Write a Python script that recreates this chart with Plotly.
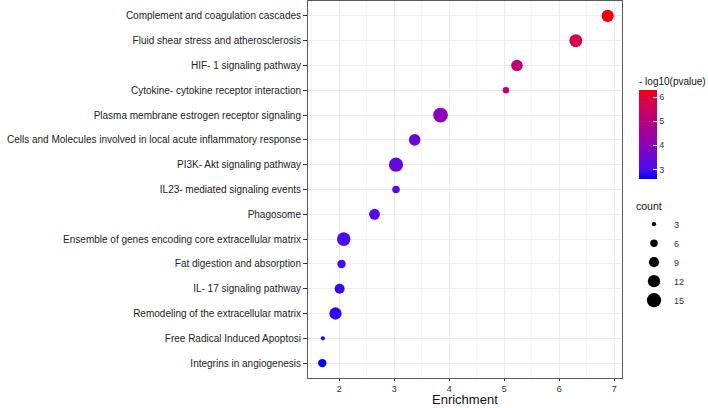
import plotly.graph_objects as go

pathways = [
    "Complement and coagulation cascades",
    "Fluid shear stress and atherosclerosis",
    "HIF- 1 signaling pathway",
    "Cytokine- cytokine receptor interaction",
    "Plasma membrane estrogen receptor signaling",
    "Cells and Molecules involved in local acute inflammatory response",
    "PI3K- Akt signaling pathway",
    "IL23- mediated signaling events",
    "Phagosome",
    "Ensemble of genes encoding core extracellular matrix",
    "Fat digestion and absorption",
    "IL- 17 signaling pathway",
    "Remodeling of the extracellular matrix",
    "Free Radical Induced Apoptosi",
    "Integrins in angiogenesis",
]
enrichment = [6.88, 6.30, 5.23, 5.03, 3.84, 3.37, 3.03, 3.03, 2.64, 2.08, 2.04, 2.005, 1.93, 1.70, 1.69]
neglog10p = [6.30, 5.80, 5.20, 5.10, 4.05, 3.50, 3.35, 3.25, 3.10, 3.00, 2.95, 2.90, 2.85, 2.70, 2.60]
counts = [12, 13, 11, 5, 16, 11, 15, 6, 10, 14, 7, 9, 12, 3, 7]

count_breaks = [3, 6, 9, 12, 15]
color_ticks = [3, 4, 5, 6]
x_ticks = [2, 3, 4, 5, 6, 7]
x_title = "Enrichment"

FONT = "Liberation Sans"


def diam(c):
    # area-style size scale (diameter linear in sqrt(count))
    return -4.0 + 4.7 * c ** 0.5


colorscale = [
    [0.00, "#0000FF"],
    [0.11, "#4F0AF0"],
    [0.38, "#8A00B9"],
    [0.65, "#B8007E"],
    [0.92, "#E0003A"],
    [1.00, "#F0000F"],
]

cmin, cmax = min(neglog10p), max(neglog10p)

W, H = 708, 408
ml, mr, mt, mb = 308, 86, 1, 30
pw, ph = W - ml - mr, H - mt - mb


def px_to_paper_x(px):
    return (px - ml) / pw


def px_to_paper_y(py):
    return (H - mb - py) / ph


fig = go.Figure()
fig.add_trace(go.Scatter(
    x=enrichment, y=pathways, mode="markers", showlegend=False,
    hoverinfo="skip",
    marker=dict(
        size=[diam(c) for c in counts], sizemode="diameter",
        color=neglog10p, colorscale=colorscale, cmin=cmin, cmax=cmax,
        line=dict(width=0), opacity=1,
        colorbar=dict(
            title=dict(text="- log10(pvalue)", side="top",
                       font=dict(family=FONT, size=10, color="#111")),
            tickvals=color_ticks, ticks="inside", tickcolor="white", ticklen=4,
            tickfont=dict(family=FONT, size=9, color="#333"),
            thickness=18, thicknessmode="pixels",
            len=105, lenmode="pixels",
            x=px_to_paper_x(639), xanchor="left", xpad=0,
            y=px_to_paper_y(74), yanchor="top", ypad=0,
            outlinewidth=0,
        ),
    ),
))

for b in count_breaks:
    fig.add_trace(go.Scatter(
        x=[None], y=[None], mode="markers", name=str(b), legend="legend2",
        marker=dict(size=diam(b), color="black", line=dict(width=0)),
    ))

fig.add_annotation(
    text=x_title, xref="paper", yref="paper", x=0.5, xanchor="center",
    y=px_to_paper_y(408), yanchor="bottom", showarrow=False,
    font=dict(family=FONT, size=13, color="#111"), borderpad=0,
)

fig.update_layout(
    width=W, height=H,
    margin=dict(l=ml, r=mr, t=mt, b=mb, autoexpand=False),
    paper_bgcolor="white", plot_bgcolor="white",
    font=dict(family=FONT, color="#222"),
    legend2=dict(
        title=dict(text="count", font=dict(family=FONT, size=10.5, color="#111")),
        font=dict(family=FONT, size=9, color="#333"),
        itemsizing="trace",
        x=px_to_paper_x(634), xanchor="left",
        y=px_to_paper_y(196), yanchor="top",
        bgcolor="rgba(0,0,0,0)", borderwidth=0,
        tracegroupgap=0,
    ),
    xaxis=dict(
        range=[1.43, 7.14], tickvals=x_ticks, showgrid=True,
        gridcolor="#EBEBEB", gridwidth=1,
        minor=dict(dtick=0.5, tick0=0, showgrid=True, gridcolor="#F4F4F4", gridwidth=0.6),
        showline=True, linecolor="#5a5a5a", linewidth=1, mirror=True,
        ticks="outside", ticklen=2, tickcolor="#333", tickwidth=1,
        tickfont=dict(family=FONT, size=9, color="#333"),
        zeroline=False, automargin=False,
    ),
    yaxis=dict(
        type="category", categoryorder="array", categoryarray=list(reversed(pathways)),
        range=[-0.6, len(pathways) - 0.4],
        showgrid=True, gridcolor="#EBEBEB", gridwidth=1,
        showline=True, linecolor="#5a5a5a", linewidth=1, mirror=True,
        ticks="outside", ticklen=4, tickcolor="#333", tickwidth=1,
        tickfont=dict(family=FONT, size=10, color="#222"),
        zeroline=False, automargin=False,
    ),
)

fig.write_html(
    "out.html",
    config={"displayModeBar": False},
    post_script="document.body.style.margin='0';document.body.style.padding='0';",
)
